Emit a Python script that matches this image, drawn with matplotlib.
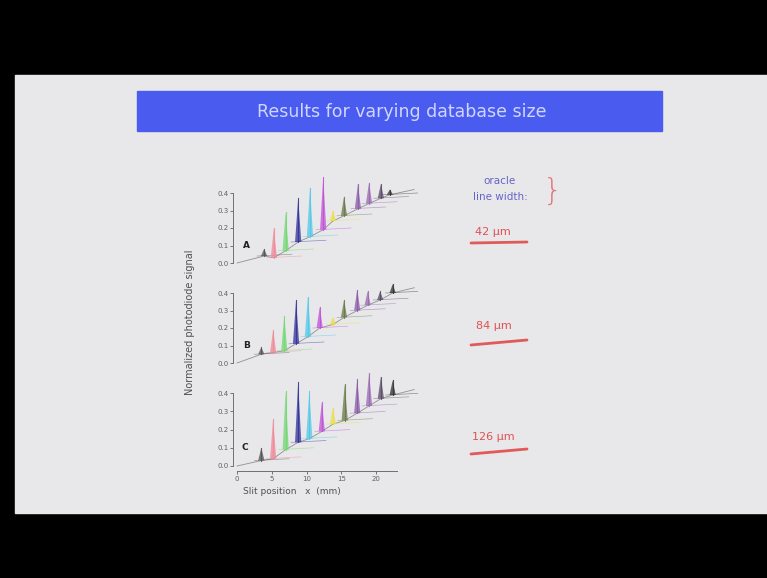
import matplotlib
matplotlib.use("Agg")
from matplotlib import pyplot as plt
from matplotlib.patches import Rectangle

# ---- donnees ----
titre = "Results for varying database size"
panneaux = ["A", "B", "C"]
largeurs = ["42 μm", "84 μm", "126 μm"]

couleurs = ["#505050", "#f08898", "#70d870", "#303098", "#50c8e8", "#c050d8",
            "#e8e048", "#687848", "#8858a8", "#9868b0", "#584868", "#303030"]

# positions des pics (mm), base et sommet (signal normalise)
posA = [3.9, 5.3, 7.0, 8.8, 10.5, 12.4, 13.8, 15.4, 17.4, 19.0, 20.7, 22.0]
baseA = [0.04, 0.03, 0.07, 0.12, 0.15, 0.19, 0.24, 0.27, 0.31, 0.34, 0.37, 0.39]
hautA = [0.08, 0.20, 0.29, 0.37, 0.43, 0.49, 0.30, 0.38, 0.45, 0.46, 0.45, 0.42]

posB = [3.5, 5.2, 6.8, 8.5, 10.2, 11.9, 13.8, 15.4, 17.3, 18.8, 20.6, 22.4]
baseB = [0.05, 0.06, 0.07, 0.11, 0.15, 0.20, 0.22, 0.26, 0.30, 0.33, 0.36, 0.40]
hautB = [0.09, 0.19, 0.27, 0.36, 0.38, 0.32, 0.26, 0.36, 0.42, 0.41, 0.41, 0.45]

posC = [3.5, 5.2, 7.0, 8.8, 10.4, 12.2, 13.8, 15.5, 17.3, 19.0, 20.7, 22.4]
baseC = [0.03, 0.04, 0.09, 0.13, 0.15, 0.19, 0.23, 0.25, 0.29, 0.33, 0.37, 0.39]
hautC = [0.10, 0.26, 0.41, 0.46, 0.41, 0.35, 0.32, 0.45, 0.48, 0.51, 0.49, 0.47]

yticks = [0.0, 0.1, 0.2, 0.3, 0.4]
xticks = [0, 5, 10, 15, 20]

W, H = 767, 578
fig = plt.figure(figsize=(W / 100, H / 100), dpi=100)
fig.patch.set_facecolor("black")

# fond de la diapositive, en pixels
fond = fig.add_axes([0, 0, 1, 1])
fond.set_xlim(0, W)
fond.set_ylim(H, 0)
fond.axis("off")
fond.add_patch(Rectangle((15, 75), W - 15, 438, color="#e8e8ea", zorder=0))
fond.add_patch(Rectangle((137, 91), 525, 40, color="#4a5cf0", zorder=1))
fond.text(402, 112, titre, color="#cfd6ff", fontsize=12.5, ha="center", va="center")

fond.text(190, 322, "Normalized photodiode signal", rotation=90, fontsize=7,
          color="#505050", ha="center", va="center")
fond.text(292, 491, "Slit position   x  (mm)", fontsize=6.5, color="#505050",
          ha="center", va="center")

fond.text(500, 181, "oracle", color="#6464c8", fontsize=7.5, ha="center", va="center")
fond.text(500, 197, "line width:", color="#6464c8", fontsize=7.5, ha="center", va="center")
fond.text(553, 191, "}", color="#e07878", fontsize=22, ha="center", va="center",
          fontweight="light")

pos_txt = [(493, 232), (494, 326), (493, 437)]
soulign = [(243, 242), (345, 340), (454, 449)]
for (tx, ty), lab, (y1, y2) in zip(pos_txt, largeurs, soulign):
    fond.text(tx, ty, lab, color="#e05050", fontsize=8, ha="center", va="center")
    fond.plot([471, 527], [y1, y2], color="#e05a5a", lw=2.0, solid_capstyle="round")


def px2fig(x0, x1, y0, y1):
    return [x0 / W, 1 - y1 / H, (x1 - x0) / W, (y1 - y0) / H]


donnees = [(posA, baseA, hautA), (posB, baseB, hautB), (posC, baseC, hautC)]
zeros = [263, 363, 466]
echelles = [175, 175, 182]
labpos = [(246, 245), (247, 346), (245, 448)]

xmin, xmax, ymin, ymax = -0.6, 26.0, -0.03, 0.56
for k, (pos, base, haut) in enumerate(donnees):
    z, e = zeros[k], echelles[k]
    x0px = 237 + xmin * 6.95
    x1px = 237 + xmax * 6.95
    y0px = z - ymax * e
    y1px = z - ymin * e
    ax = fig.add_axes(px2fig(x0px, x1px, y0px, y1px))
    ax.set_xlim(xmin, xmax)
    ax.set_ylim(ymin, ymax)
    ax.patch.set_alpha(0)
    for s in ["top", "right"]:
        ax.spines[s].set_visible(False)
    ax.spines["left"].set_bounds(0, 0.4)
    ax.spines["left"].set_color("#707070")
    ax.spines["left"].set_linewidth(0.7)
    ax.set_yticks(yticks)
    ax.set_yticklabels(["%.1f" % v for v in yticks])
    ax.tick_params(axis="y", labelsize=5, colors="#606060", length=2, width=0.6, pad=1)
    if k == 2:
        ax.spines["bottom"].set_bounds(0, 23)
        ax.spines["bottom"].set_color("#707070")
        ax.spines["bottom"].set_linewidth(0.7)
        ax.set_xticks(xticks)
        ax.tick_params(axis="x", labelsize=5, colors="#606060", length=2, width=0.6, pad=1)
    else:
        ax.spines["bottom"].set_visible(False)
        ax.set_xticks([])

    # ligne de base grise
    ax.plot([0] + pos + [25.5], [0.0] + base + [base[-1] + 0.03],
            color="#909090", lw=0.6, zorder=1)
    for i in range(len(pos)):
        c = couleurs[i]
        ax.plot([pos[i] - 1.0, pos[i] + 4.0], [base[i], base[i] + 0.01],
                color=c, lw=0.5, alpha=0.5, zorder=2)
        ax.fill([pos[i] - 0.45, pos[i], pos[i] + 0.45],
                [base[i], haut[i], base[i]], color=c, alpha=0.75, lw=0, zorder=3)
        ax.plot([pos[i], pos[i]], [base[i], haut[i]], color=c, lw=0.8, alpha=0.85, zorder=3)
    fond.text(labpos[k][0], labpos[k][1], panneaux[k], fontsize=6.5,
              fontweight="bold", color="#202020", ha="center", va="center")

fig.savefig("out.png", dpi=100, facecolor=fig.get_facecolor())
